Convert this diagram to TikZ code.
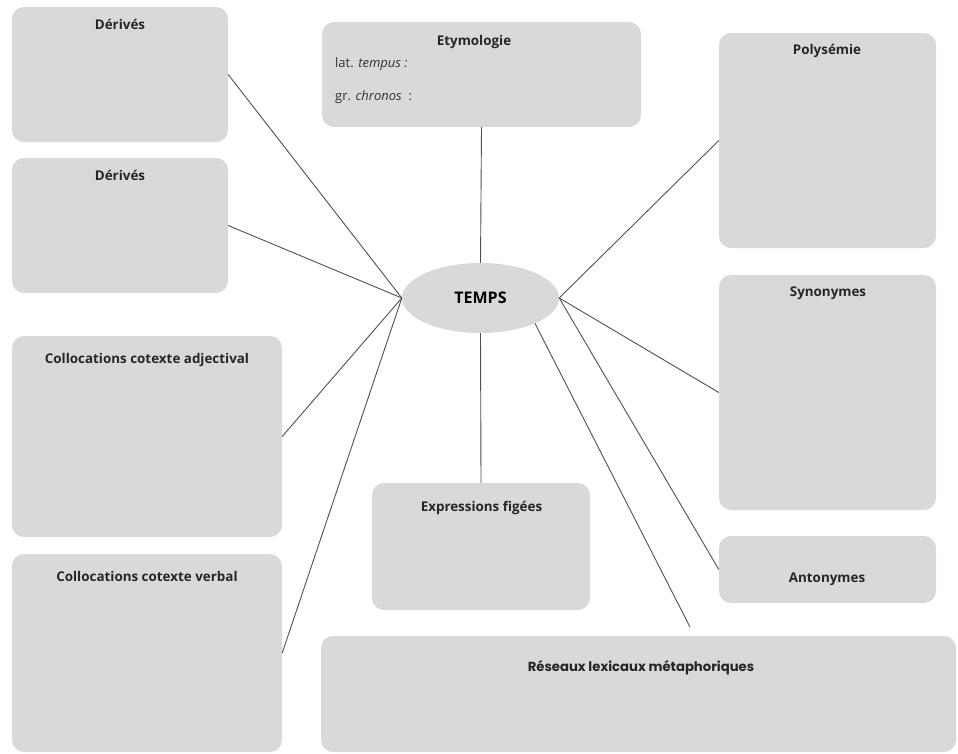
\documentclass[tikz,border=0pt]{standalone}
\usepackage{fontspec}
\setmainfont{Open Sans}
\newfontfamily\poppins{Poppins}
\usetikzlibrary{shapes.geometric}
\definecolor{grisboite}{HTML}{D9D9D9}
\definecolor{grislien}{HTML}{505050}

\begin{document}
\begin{tikzpicture}[x=1pt, y=-1pt,
    boite/.style={fill=grisboite, rounded corners=12pt, inner sep=0pt},
    titre/.style={font=\bfseries\fontsize{13.4}{16}\selectfont, text=black!85, text height=9.5pt, text depth=0pt, inner sep=0pt},
    texte/.style={font=\fontsize{13}{15}\selectfont, text=black!80, anchor=west, text height=9.5pt, text depth=0pt, inner sep=0pt},
    lien/.style={draw=grislien, line width=0.9pt}]
  \useasboundingbox (0,0) rectangle (958,753);

  % --- Boites ---
  \node[boite, minimum width=216, minimum height=135] (derives1) at (120,74.5) {};
  \node[boite, minimum width=216, minimum height=135] (derives2) at (120,225.5) {};
  \node[boite, minimum width=270, minimum height=201] (colladj) at (147,436.5) {};
  \node[boite, minimum width=270, minimum height=198] (collverb) at (147,653) {};
  \node[boite, minimum width=319, minimum height=105] (etym) at (481.5,74.5) {};
  \node[boite, minimum width=217, minimum height=215] (polysemie) at (827.5,140.5) {};
  \node[boite, minimum width=217, minimum height=235] (synonymes) at (827.5,392.5) {};
  \node[boite, minimum width=217, minimum height=67] (antonymes) at (827.5,569.5) {};
  \node[boite, minimum width=218, minimum height=127] (expressions) at (481,546.5) {};
  \node[boite, minimum width=635, minimum height=116] (reseaux) at (638.5,694) {};

  % --- Noeud central ---
  \node[ellipse, fill=grisboite, minimum width=157, minimum height=70, inner sep=0pt,
        font=\bfseries\fontsize{16}{18}\selectfont, text height=11.5pt, text depth=0pt] (temps) at (480.5,298) {TEMPS};

  % --- Titres ---
  \node[titre] (tderives1) at (120,25) {Dérivés};
  \node[titre] (tderives2) at (120,176) {Dérivés};
  \node[titre] (tcolladj) at (147,359) {Collocations cotexte adjectival};
  \node[titre] (tcollverb) at (147,577) {Collocations cotexte verbal};
  \node[titre] (tetym) at (474,41) {Etymologie};
  \node[texte] (latin) at (335,63) {lat. \textit{tempus :}};
  \node[texte] (grec) at (335,96) {gr. \textit{chronos}\ \ :};
  \node[titre] (tpolysemie) at (827,50) {Polysémie};
  \node[titre] (tsynonymes) at (828,292) {Synonymes};
  \node[titre] (tantonymes) at (827,578) {Antonymes};
  \node[titre] (texpressions) at (481.5,507) {Expressions figées};
  \node[titre, font=\poppins\bfseries\fontsize{13.2}{15}\selectfont] (treseaux) at (641,667) {Réseaux lexicaux métaphoriques};

  % --- Liens ---
  \coordinate (finreseaux) at (690,627);
  \draw[lien] (temps.west) -- (derives1.east);
  \draw[lien] (temps.west) -- (derives2.east);
  \draw[lien] (temps.west) -- (colladj.east);
  \draw[lien] (temps.west) -- (collverb.east);
  \draw[lien] (temps.north) -- (etym.south);
  \draw[lien] (temps.south) -- (expressions.north);
  \draw[lien] (temps.east) -- (polysemie.west);
  \draw[lien] (temps.east) -- (synonymes.west);
  \draw[lien] (temps.east) -- (antonymes.west);
  \draw[lien] (temps.-25) -- (finreseaux);
\end{tikzpicture}
\end{document}
